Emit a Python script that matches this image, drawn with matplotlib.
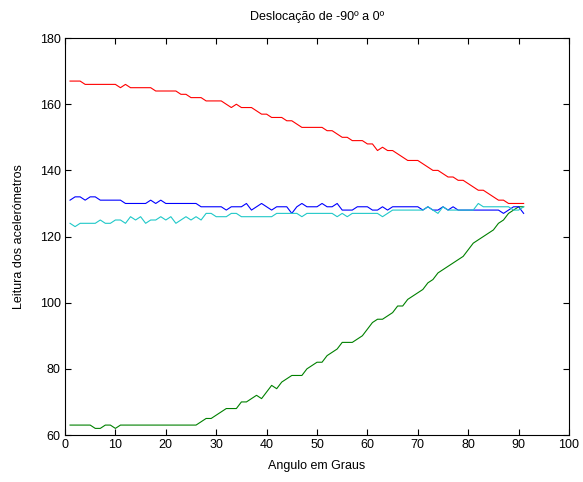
import matplotlib
matplotlib.use("Agg")
import matplotlib.pyplot as plt
import numpy as np

# angle samples (deg)
angulo = np.arange(1, 92)

# accelerometer readings
vermelho = ([167] * 3 + [166] * 7 + [165, 166] + [165] * 5 + [164] * 5 + [163] * 2
            + [162] * 3 + [161] * 4 + [160, 159, 160] + [159] * 3 + [158] + [157] * 2
            + [156] * 3 + [155] * 2 + [154] + [153] * 5 + [152] * 2 + [151] + [150] * 2
            + [149] * 3 + [148] * 2 + [146, 147] + [146] * 2 + [145, 144] + [143] * 3
            + [142, 141] + [140] * 2 + [139] + [138] * 2 + [137] * 2 + [136, 135]
            + [134] * 2 + [133, 132] + [131] * 2 + [130] * 3 + [130])

azul = ([131, 132, 132, 131, 132, 132] + [131] * 5 + [130] * 5 + [131, 130, 131]
        + [130] * 7 + [129] * 5 + [128] + [129] * 3 + [130, 128, 129, 130, 129, 128]
        + [129] * 3 + [127, 129, 130] + [129] * 3 + [130, 129, 129, 130, 128, 128, 128]
        + [129] * 3 + [128, 128, 129, 128] + [129] * 6 + [128, 129, 128, 128, 129, 128, 129]
        + [128] * 3 + [128] * 6 + [127, 128, 129, 129, 127])

ciano = ([124, 123, 124, 124, 124, 124, 125, 124, 124, 125, 125, 124, 126, 125, 126, 124,
          125, 125, 126, 125, 126, 124, 125, 126, 125, 126, 125, 127, 127, 126, 126, 126,
          127, 127] + [126] * 7 + [127] * 5 + [126] + [127] * 6 + [126, 127, 126]
         + [127] * 6 + [126, 127] + [128] * 7 + [129, 128, 127, 129] + [128] * 6 + [130]
         + [129] * 6 + [128, 128, 129])

verde = ([63] * 5 + [62, 62, 63, 63, 62] + [63] * 16 + [64, 65, 65, 66, 67, 68, 68, 68,
         70, 70, 71, 72, 71, 73, 75, 74, 76, 77, 78, 78, 78, 80, 81, 82, 82, 84, 85, 86,
         88, 88, 88, 89, 90, 92, 94, 95, 95, 96, 97, 99, 99, 101, 102, 103, 104, 106, 107,
         109, 110, 111, 112, 113, 114, 116, 118, 119, 120, 121, 122, 124, 125, 127, 128,
         129, 129])

series = [
    (vermelho, "#ff0000"),
    (verde, "#008000"),
    (azul, "#0000ff"),
    (ciano, "#20c8c8"),
]

plt.rcParams["font.family"] = ["Liberation Sans", "DejaVu Sans"]
plt.rcParams["font.size"] = 9

fig = plt.figure(figsize=(5.83, 4.82), dpi=100)
ax = fig.add_axes([0.1115, 0.0975, 0.8645, 0.8235])

for valores, cor in series:
    ax.plot(angulo, valores, color=cor, linewidth=0.8)

ax.set_xlim(0, 100)
ax.set_ylim(60, 180)
ax.set_xticks(np.arange(0, 101, 10))
ax.set_yticks(np.arange(60, 181, 20))
ax.tick_params(direction="in", top=True, right=True, length=4, width=0.8, pad=3)
for s in ax.spines.values():
    s.set_linewidth(0.8)

ax.set_title("Deslocação de -90º a 0º", fontsize=9, pad=13)
ax.set_xlabel("Angulo em Graus", labelpad=6)
ax.set_ylabel("Leitura dos acelerómetros", labelpad=11)

fig.savefig("out.png", dpi=100)
